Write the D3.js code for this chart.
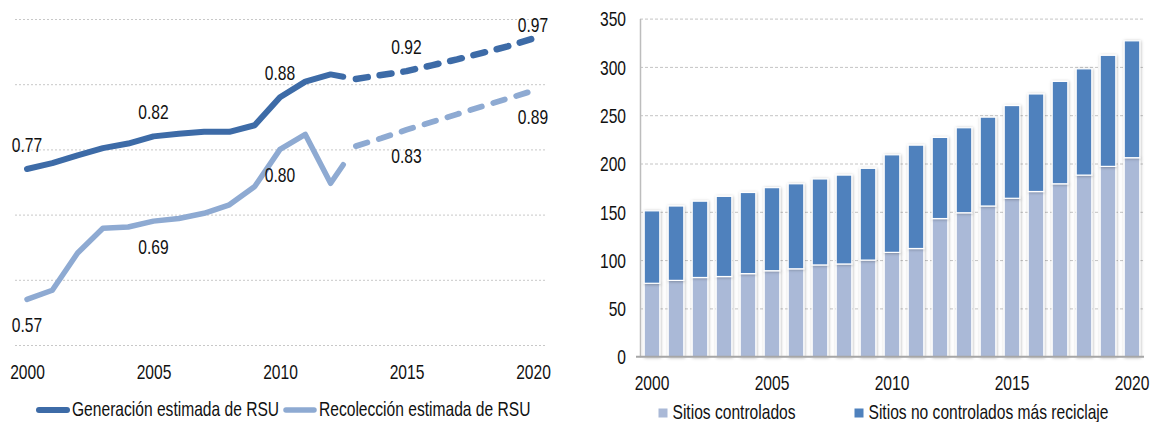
<!DOCTYPE html>
<html>
<head>
<meta charset="utf-8">
<script src="https://cdn.jsdelivr.net/npm/d3@7"></script>
<style>
  body { margin: 0; background: #fff; }
  svg text { font-family: "Liberation Sans", Arial, sans-serif; font-size: 20px; fill: #111; }
</style>
</head>
<body>
<svg id="chart" width="1156" height="422"></svg>
<script>
// ---------- Datos: generación y recolección de RSU (kg/hab/día) ----------
const aniosHist = [2000, 2001, 2002, 2003, 2004, 2005, 2006, 2007, 2008, 2009, 2010, 2011, 2012, 2013];
const generacion = [0.77, 0.779, 0.791, 0.802, 0.809, 0.82, 0.824, 0.827, 0.827, 0.837, 0.88, 0.904, 0.915, 0.908];
const recoleccion = [0.57, 0.584, 0.641, 0.679, 0.681, 0.69, 0.694, 0.702, 0.715, 0.743, 0.80, 0.823, 0.748, 0.805];

const aniosProy = [2013, 2014, 2015, 2016, 2017, 2018, 2019, 2020];
const generacionProy = [0.908, 0.914, 0.92, 0.929, 0.938, 0.948, 0.958, 0.97];
const recoleccionProy = [0.805, 0.817, 0.83, 0.842, 0.854, 0.866, 0.878, 0.89];

const etiquetasGenAnios = [2000, 2005, 2010, 2015, 2020];
const etiquetasGenValores = [0.77, 0.82, 0.88, 0.92, 0.97];
const etiquetasRecAnios = [2000, 2005, 2010, 2015, 2020];
const etiquetasRecValores = [0.57, 0.69, 0.80, 0.83, 0.89];

const ticksAnios = [2000, 2005, 2010, 2015, 2020];
const gridLineas = [0.5, 0.6, 0.7, 0.8, 0.9, 1.0];
const leyendaLineas = ["Generación estimada de RSU", "Recolección estimada de RSU"];

// ---------- Datos: disposición final (miles de toneladas) ----------
const aniosBarras = [2000, 2001, 2002, 2003, 2004, 2005, 2006, 2007, 2008, 2009, 2010,
                     2011, 2012, 2013, 2014, 2015, 2016, 2017, 2018, 2019, 2020];
const controlados = [76, 79, 82, 83, 86, 89, 91, 95, 96, 100, 108, 112, 143, 149, 156, 164, 171, 179, 188, 197, 206];
const noControlados = [75, 77, 79, 83, 84, 86, 88, 89, 92, 95, 101, 107, 84, 88, 92, 96, 101, 106, 110, 115, 121];
const ticksBarrasY = [0, 50, 100, 150, 200, 250, 300, 350];
const leyendaBarras = ["Sitios controlados", "Sitios no controlados más reciclaje"];

// ---------- Estilos ----------
const colGen = "#3d6ba7", colRec = "#8eaad2";
const colCtrl = "#aab9d7", colNoCtrl = "#4f81bd";
const estrechez = 0.78; // compresión horizontal del texto (tipografía angosta)

const svg = d3.select("#chart");

const defs = svg.append("defs");
const sombra = defs.append("filter").attr("id", "sombra")
  .attr("x", "-30%").attr("y", "-10%").attr("width", "160%").attr("height", "120%");
sombra.append("feDropShadow").attr("dx", 0.6).attr("dy", 0.6)
  .attr("stdDeviation", 1.6).attr("flood-color", "#000").attr("flood-opacity", 0.3);

// =================== Panel izquierdo: líneas ===================
const xL = d3.scaleLinear().domain([2000, 2020]).range([27, 533]);
const yL = d3.scaleLinear().domain([0.5, 1.0]).range([345, 19]);

const gridL = svg.append("g").attr("transform", "translate(15,0)")
  .call(d3.axisLeft(yL).tickValues(gridLineas).tickSize(-530).tickFormat(""));
gridL.select(".domain").remove();
gridL.selectAll(".tick line").attr("stroke", "#c8c8c8").attr("stroke-width", 1).attr("stroke-dasharray", "2,2");

const axL = svg.append("g").attr("transform", "translate(0,364.5)")
  .call(d3.axisBottom(xL).tickValues(ticksAnios).tickSize(0).tickPadding(0).tickFormat(d3.format("d")));
axL.select(".domain").remove();

const linea = d3.line().x(d => xL(d[0])).y(d => yL(d[1]));

function serieSolida(anios, valores, color, ancho) {
  const pts = anios.map((a, i) => [a, valores[i]]);
  const p = svg.append("path").datum(pts)
    .attr("d", linea).attr("fill", "none")
    .attr("stroke", color).attr("stroke-width", ancho)
    .attr("stroke-linejoin", "round").attr("stroke-linecap", "round");
  // el tramo final se corta a la mitad para dar paso a la proyección
  const L = p.node().getTotalLength();
  const a = pts[pts.length - 2], b = pts[pts.length - 1];
  const seg = Math.hypot(xL(b[0]) - xL(a[0]), yL(b[1]) - yL(a[1]));
  p.attr("stroke-dasharray", `${L - seg * 0.5} ${seg + 20}`);
}

function serieProyectada(anios, valores, color, ancho) {
  const pts = anios.map((a, i) => [a, valores[i]]);
  svg.append("path").datum(pts)
    .attr("d", linea).attr("fill", "none")
    .attr("stroke", color).attr("stroke-width", ancho)
    .attr("stroke-linejoin", "round").attr("stroke-linecap", "round")
    .attr("stroke-dasharray", "12 12");
}

serieSolida(aniosHist, recoleccion, colRec, 5.5);
serieSolida(aniosHist, generacion, colGen, 6);
serieProyectada(aniosProy, recoleccionProy, colRec, 5.8);
serieProyectada(aniosProy, generacionProy, colGen, 6.5);

// etiquetas de valor
etiquetasGenAnios.forEach((a, i) => {
  const v = etiquetasGenValores[i];
  const cy = Math.max(yL(v) - 24, 25);
  svg.append("text").attr("x", xL(a)).attr("y", cy + 7)
    .attr("text-anchor", "middle").text(v.toFixed(2));
});
etiquetasRecAnios.forEach((a, i) => {
  const v = etiquetasRecValores[i];
  svg.append("text").attr("x", xL(a)).attr("y", yL(v) + 26 + 7)
    .attr("text-anchor", "middle").text(v.toFixed(2));
});

// leyenda
const legL = [{x: 39, color: colGen, w: 6}, {x: 286, color: colRec, w: 5.5}];
legL.forEach((l, i) => {
  svg.append("line").attr("x1", l.x).attr("x2", l.x + 28).attr("y1", 410).attr("y2", 410)
    .attr("stroke", l.color).attr("stroke-width", l.w).attr("stroke-linecap", "round");
  svg.append("text").attr("x", l.x + 33).attr("y", 416.5).text(leyendaLineas[i]);
});

// =================== Panel derecho: barras apiladas ===================
const xR = d3.scaleBand().domain(aniosBarras).range([640, 1144]).paddingInner(0.35).paddingOuter(0.175);
const yR = d3.scaleLinear().domain([0, 350]).range([356.7, 18.6]);

const gridR = svg.append("g").attr("transform", "translate(640,0)")
  .call(d3.axisLeft(yR).tickValues(ticksBarrasY.filter(t => t > 0)).tickSize(-504).tickFormat(""));
gridR.select(".domain").remove();
gridR.selectAll(".tick line").attr("stroke", "#c4c4c4").attr("stroke-dasharray", "3,2");

const axRY = svg.append("g").attr("transform", "translate(640,0)")
  .call(d3.axisLeft(yR).tickValues(ticksBarrasY).tickSize(0).tickPadding(14));
axRY.select(".domain").attr("stroke", "#bdbdbd").attr("stroke-width", 1.5);
axRY.selectAll(".tick text").attr("dy", "0.36em");

const tabla = aniosBarras.map((a, i) => ({anio: a, ctrl: controlados[i], noctrl: noControlados[i]}));
const pila = d3.stack().keys(["ctrl", "noctrl"])(tabla);
const coloresPila = [colCtrl, colNoCtrl];

pila.forEach((capa, k) => {
  svg.append("g").selectAll("rect").data(capa).join("rect")
    .attr("x", d => xR(d.data.anio))
    .attr("width", xR.bandwidth())
    .attr("y", d => yR(d[1]))
    .attr("height", d => yR(d[0]) - yR(d[1]))
    .attr("fill", coloresPila[k])
    .attr("stroke", "#fff").attr("stroke-width", 1.2)
    .attr("filter", "url(#sombra)");
});

svg.append("line").attr("x1", 636).attr("x2", 1144)
  .attr("y1", yR(0)).attr("y2", yR(0)).attr("stroke", "#a6a6a6").attr("stroke-width", 2);

const axRX = svg.append("g").attr("transform", "translate(0,375.5)")
  .call(d3.axisBottom(xR).tickValues(ticksAnios).tickSize(0).tickPadding(0));
axRX.select(".domain").remove();

// leyenda
const legR = [{x: 658.5, color: colCtrl}, {x: 854.5, color: colNoCtrl}];
legR.forEach((l, i) => {
  svg.append("rect").attr("x", l.x).attr("y", 408.5).attr("width", 9).attr("height", 9).attr("fill", l.color);
  svg.append("text").attr("x", l.x + 14).attr("y", 419).text(leyendaBarras[i]);
});

// compresión horizontal de todos los textos alrededor de su punto de anclaje
svg.selectAll("text").each(function () {
  const x = +this.getAttribute("x") || 0;
  const y = +this.getAttribute("y") || 0;
  d3.select(this).attr("transform", `translate(${x},${y}) scale(${estrechez},1) translate(${-x},${-y})`);
});
</script>
</body>
</html>
